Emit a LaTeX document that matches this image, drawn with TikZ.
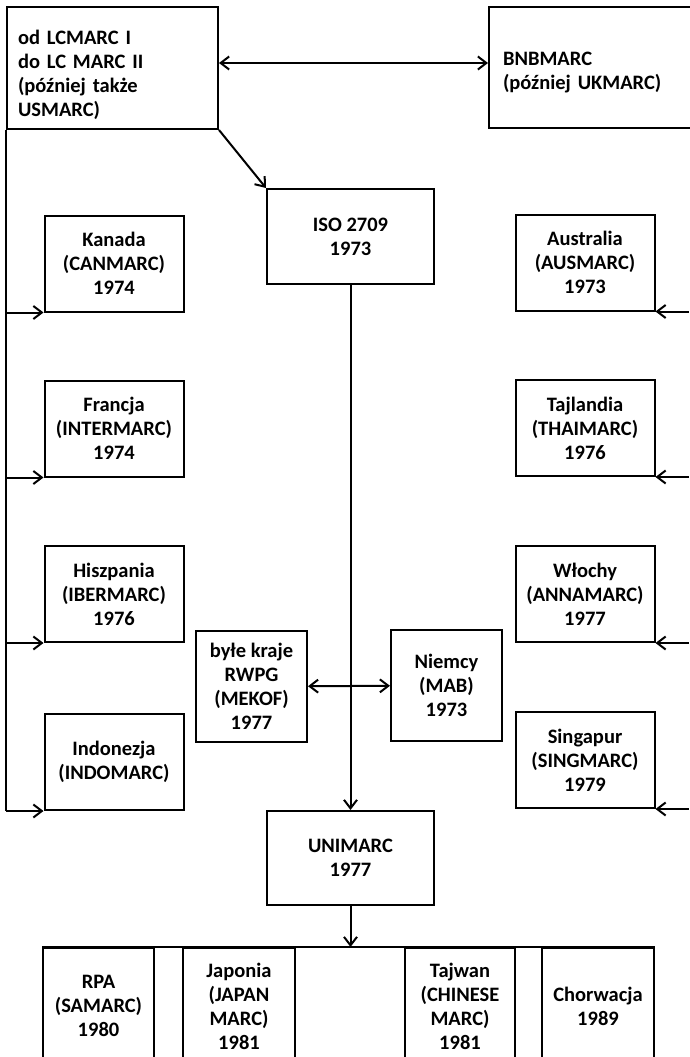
\documentclass[tikz,border=0pt]{standalone}
\usepackage{fontspec}
\setmainfont{Carlito}
\usetikzlibrary{arrows.meta}

\tikzset{
  box/.style={shape=rectangle, draw, align=center, inner sep=0pt,
    font=\bfseries\fontsize{20.5}{24}\selectfont},
  sidebox/.style={box, minimum width=139pt, minimum height=96pt},
  midbox/.style={box, minimum width=111pt, minimum height=111pt},
  rowbox/.style={box, minimum height=116pt}
}

\begin{document}
\begin{tikzpicture}[x=1pt, y=-1pt, line width=2pt,
  >={Straight Barb[length=8.5pt,width=13pt]}]
\useasboundingbox (0,0) rectangle (689,1057);

\node (z1)[box, align=left, text width=189pt, inner xsep=11pt, minimum height=122pt]
at (112.5,68){%
  \rule{0pt}{28pt}od LCMARC I\\
  do LC MARC II\\
  (później także\\
  USMARC)%
};

\node (z2)[box, align=left, text width=190pt, inner xsep=14pt, minimum height=121pt, anchor=west]
at (488,67.5){%
  \rule{0pt}{23pt}BNBMARC\\
  (później UKMARC)%
};

\node (z3)[box, minimum width=167pt, minimum height=95pt]
at (350.5,236.5){
  ISO 2709\\
  1973
};

% left column
\node (z4)[sidebox] at (114,263.5){
  Kanada\\
  (CANMARC)\\
  1974
};
\node (z5)[sidebox] at (114,428.5){
  Francja\\
  (INTERMARC)\\
  1974
};
\node (z6)[sidebox] at (114,594){
  Hiszpania\\
  (IBERMARC)\\
  1976
};
\node (z7)[sidebox] at (114,762){
  Indonezja\\
  (INDOMARC)
};

% right column
\node (z8)[sidebox] at (585,262.5){
  Australia\\
  (AUSMARC)\\
  1973
};
\node (z9)[sidebox] at (585,428){
  Tajlandia\\
  (THAIMARC)\\
  1976
};
\node (z10)[sidebox] at (585,594){
  Włochy\\
  (ANNAMARC)\\
  1977
};
\node (z11)[sidebox] at (585,760){
  Singapur\\
  (SINGMARC)\\
  1979
};

\node (z12)[midbox] at (251.5,686.5){
  byłe kraje\\
  RWPG\\
  (MEKOF)\\
  1977
};
\node (z13)[midbox] at (446.5,685.5){
  Niemcy\\
  (MAB)\\
  1973
};

\node (z14)[box, minimum width=167pt, minimum height=94pt]
at (350.5,858){
  UNIMARC\\
  1977
};

% bottom row
\node (z15)[rowbox, minimum width=111pt] at (98.5,1006){
  RPA\\
  (SAMARC)\\
  1980
};
\node (z16)[rowbox, minimum width=112pt] at (239,1006){
  Japonia\\
  (JAPAN\\
  MARC)\\
  1981
};
\node (z17)[rowbox, minimum width=110pt] at (460,1006){
  Tajwan\\
  (CHINESE\\
  MARC)\\
  1981
};
\node (z18)[rowbox, minimum width=112pt] at (598,1006){
  Chorwacja\\
  1989
};

\coordinate (rr) at (689,0);

\path[<->] ([yshift=5pt]z1.east) edge ([yshift=5pt]z1.east -| z2.west);
\path[->] (z1.south east) edge (z3.north west);
\path[->] (z3) edge (z14);
\path[<->] (z12) edge (z13);

\draw (z1.south west) -- (z1.south west |- z7.south);
\path[->] (z1.south west |- z4.south) edge (z4.south west);
\path[->] (z1.south west |- z5.south) edge (z5.south west);
\path[->] (z1.south west |- z6.south) edge (z6.south west);
\path[->] (z1.south west |- z7.south) edge (z7.south west);

\path[<-] (z8.south east) edge (z8.south east -| rr);
\path[<-] (z9.south east) edge (z9.south east -| rr);
\path[<-] (z10.south east) edge (z10.south east -| rr);
\path[<-] (z11.south east) edge (z11.south east -| rr);

\draw (z15.north west) -- (z18.north east);
\path[->] (z14) edge (z14 |- z15.north);
\end{tikzpicture}
\end{document}
